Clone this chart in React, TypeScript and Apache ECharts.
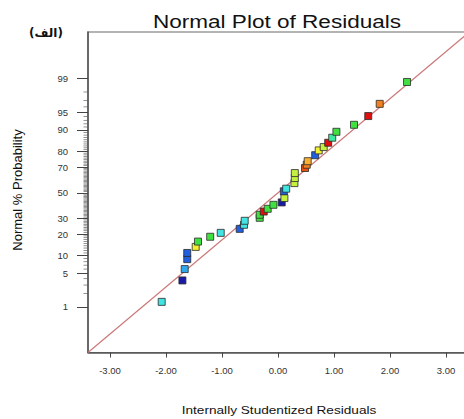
import React, { useEffect, useRef } from "react";
import * as echarts from "echarts";

// Internally studentized residuals (x) and their normal % probability (y)
const residuals = [
  -2.077, -1.707, -1.666, -1.621, -1.621, -1.47, -1.429, -1.211, -1.023, -0.684,
  -0.607, -0.595, -0.327, -0.327, -0.255, -0.184, -0.082, 0.066, 0.114, 0.104,
  0.146, 0.293, 0.3, 0.3, 0.482, 0.513, 0.53, 0.664, 0.727, 0.816,
  0.896, 0.968, 1.043, 1.357, 1.611, 1.816, 2.304,
];
const probabilities = [
  1.31, 3.7, 6.0, 8.8, 11.0, 13.5, 16.0, 18.5, 20.7, 23.1,
  25.7, 28.4, 30.5, 32.7, 35.1, 37.2, 40.3, 42.2, 45.7, 51.2,
  53.3, 57.8, 61.8, 65.6, 69.3, 71.6, 74.0, 77.8, 80.6, 82.4,
  84.6, 86.9, 89.3, 91.7, 94.1, 96.5, 98.8,
];
const colorKeys = [
  "cyan", "navy", "sky", "blue", "blue", "yellow", "green", "green", "cyan", "blue",
  "cyan", "cyan", "green", "green", "red", "green", "green", "navy", "yellowgreen", "blue",
  "cyan", "yellowgreen", "yellowgreen", "yellowgreen", "orangered", "orange", "lightorange", "blue", "yellow", "yellowgreen",
  "red", "cyangreen", "green", "green", "red", "orange", "green",
];
const palette: Record<string, string> = {
  navy: "#1a1aa8",
  blue: "#2060e0",
  sky: "#30a8ec",
  cyan: "#40e4e0",
  cyangreen: "#40e8a0",
  green: "#40e040",
  yellowgreen: "#c4f040",
  yellow: "#f2f030",
  lightorange: "#f8b030",
  orange: "#f08020",
  orangered: "#e85010",
  red: "#e01010",
};

// axis ticks
const xTickValues = [-3, -2, -1, 0, 1, 2, 3];
const probTicks = [1, 5, 10, 20, 30, 50, 70, 80, 90, 95, 99];

// reference (fit) line, in residual units and normal scores
const fitLineX = [-3.393, 3.416];
const fitLineZ = [-3.254, 3.276];

function probit(p: number): number {
  const a = [-39.69683028665376, 220.9460984245205, -275.9285104469687, 138.357751867269, -30.66479806614716, 2.506628277459239];
  const b = [-54.47609879822406, 161.5858368580409, -155.6989798598866, 66.80131188771972, -13.28068155288572];
  const c = [-0.007784894002430293, -0.3223964580411365, -2.400758277161838, -2.549732539343734, 4.374664141464968, 2.938163982698783];
  const d = [0.007784695709041462, 0.3224671290700398, 2.445134137142996, 3.754408661907416];
  const pl = 0.02425;
  const ph = 1 - pl;
  let q: number;
  let r: number;
  if (p < pl) {
    q = Math.sqrt(-2 * Math.log(p));
    return (((((c[0] * q + c[1]) * q + c[2]) * q + c[3]) * q + c[4]) * q + c[5]) / ((((d[0] * q + d[1]) * q + d[2]) * q + d[3]) * q + 1);
  }
  if (p <= ph) {
    q = p - 0.5;
    r = q * q;
    return ((((((a[0] * r + a[1]) * r + a[2]) * r + a[3]) * r + a[4]) * r + a[5]) * q) / (((((b[0] * r + b[1]) * r + b[2]) * r + b[3]) * r + b[4]) * r + 1);
  }
  q = Math.sqrt(-2 * Math.log(1 - p));
  return -(((((c[0] * q + c[1]) * q + c[2]) * q + c[3]) * q + c[4]) * q + c[5]) / ((((d[0] * q + d[1]) * q + d[2]) * q + d[3]) * q + 1);
}

export default function App() {
  const ref = useRef<HTMLDivElement>(null);
  useEffect(() => {
    if (!ref.current) return;
    const chart = echarts.init(ref.current, null, { renderer: "svg" });

    const yMin = -3.255;
    const yMax = 3.276;
    const xMin = -3.393;
    const xMax = 3.446;
    const font = "'Liberation Sans', Arial, sans-serif";

    const majorZ = probTicks.map((p) => probit(p / 100));
    const minorTicks: number[][] = [];
    for (let p = 2; p <= 98; p++) {
      if (probTicks.indexOf(p) < 0) minorTicks.push([xMin, probit(p / 100)]);
    }

    const points = residuals.map((x, i) => ({
      value: [x, probit(probabilities[i] / 100)],
      itemStyle: { color: palette[colorKeys[i]] },
    }));

    chart.setOption({
      animation: false,
      backgroundColor: "#ffffff",
      grid: {
        left: 88,
        top: 32,
        right: 29,
        bottom: 66.5,
        show: true,
        borderColor: "#6a6a6a",
        borderWidth: 1.2,
        containLabel: false,
        outerBoundsMode: "none",
      },
      xAxis: {
        type: "value",
        min: xMin,
        max: xMax,
        axisLine: { show: true, onZero: false, lineStyle: { color: "#555", width: 1.5 } },
        axisTick: {
          show: true,
          length: 5,
          customValues: xTickValues,
          lineStyle: { color: "#444", width: 1 },
        },
        axisLabel: {
          customValues: xTickValues,
          formatter: (v: number) => v.toFixed(2),
          fontSize: 9.5,
          color: "#333",
          fontFamily: font,
          margin: 13,
        },
        splitLine: { show: false },
      },
      yAxis: {
        type: "value",
        min: yMin,
        max: yMax,
        axisLine: { show: true, onZero: false, lineStyle: { color: "#555", width: 1.5 } },
        axisTick: {
          show: true,
          length: 11,
          customValues: majorZ,
          lineStyle: { color: "#444", width: 1 },
        },
        axisLabel: {
          customValues: majorZ,
          formatter: (v: number) => {
            const i = majorZ.findIndex((z) => Math.abs(z - v) < 1e-6);
            return i >= 0 ? String(probTicks[i]) : "";
          },
          fontSize: 9.5,
          color: "#333",
          fontFamily: font,
          margin: 20,
        },
        splitLine: { show: false },
      },
      series: [
        {
          type: "scatter",
          data: minorTicks,
          symbol: "rect",
          symbolSize: [4, 0.8],
          symbolOffset: [-2.5, 0],
          itemStyle: { color: "#555" },
          clip: false,
          silent: true,
          z: 3,
        },
        {
          type: "line",
          data: fitLineX.map((x, i) => [x, fitLineZ[i]]),
          symbol: "none",
          lineStyle: { color: "#cc7878", width: 1.2 },
          silent: true,
          z: 1,
        },
        {
          type: "scatter",
          data: points,
          symbol: "rect",
          symbolSize: 7,
          itemStyle: { borderColor: "#2a2a2a", borderWidth: 0.8, opacity: 1 },
          z: 2,
        },
      ],
      graphic: [
        {
          type: "text",
          x: 277,
          y: 21,
          scaleX: 1.22,
          style: {
            text: "Normal Plot of Residuals",
            fontSize: 18.5,
            fontFamily: font,
            fill: "#111",
            align: "center",
            verticalAlign: "middle",
          },
        },
        {
          type: "text",
          x: 46,
          y: 33,
          style: {
            text: "(الف)",
            fontSize: 12,
            fontWeight: "bold",
            fontFamily: "'DejaVu Sans', sans-serif",
            fill: "#111",
            align: "center",
            verticalAlign: "middle",
          },
        },
        {
          type: "text",
          x: 279,
          y: 410,
          scaleX: 1.24,
          style: {
            text: "Internally Studentized Residuals",
            fontSize: 11,
            fontFamily: font,
            fill: "#111",
            align: "center",
            verticalAlign: "middle",
          },
        },
        {
          type: "text",
          x: 17,
          y: 190,
          rotation: Math.PI / 2,
          style: {
            text: "Normal % Probability",
            fontSize: 13,
            fontFamily: font,
            fill: "#111",
            align: "center",
            verticalAlign: "middle",
          },
        },
      ],
    });
    return () => chart.dispose();
  }, []);
  return (
    <div
      ref={ref}
      style={{ position: "fixed", left: 0, top: 0, width: 500, height: 419 }}
    />
  );
}
